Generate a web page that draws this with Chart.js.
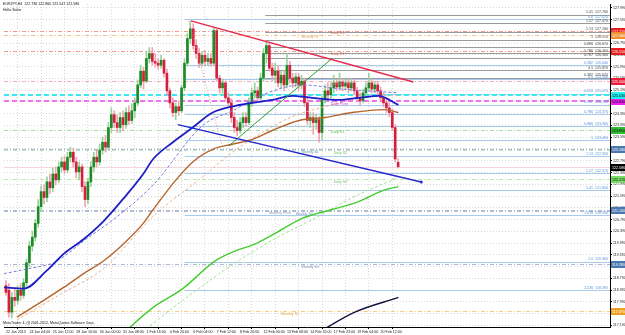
<!DOCTYPE html>
<html>
<head>
<meta charset="utf-8">
<script src="https://cdn.jsdelivr.net/npm/chart.js@4.4.1/dist/chart.umd.min.js"></script>
<style>
  html, body { margin: 0; padding: 0; background: #fff; }
  canvas { display: block; }
</style>
</head>
<body>
<canvas id="c" width="625" height="335" style="width:625px;height:335px"></canvas>
<script>
// EURJPY H4, 135 bars (bar index 0 = 22 Jan 2013)
const opens = [118.54,118.38,117.64,118.14,118.04,118.38,118.21,118.64,119.32,119.89,120.19,120.66,121.23,121.74,121.54,122.07,121.87,122.34,122.14,122.58,
  122.75,122.48,122.91,123.08,122.75,122.41,122.58,121.91,121.47,122.07,122.58,122.91,122.75,123.15,123.42,123.25,123.92,124.36,124.09,123.92,
  124.26,124.02,124.43,124.16,124.49,124.76,125.37,125.84,125.50,126.27,126.44,126.17,126.11,126.04,126.21,125.77,125.17,124.76,124.43,124.63,
  124.49,125.27,126.11,126.95,127.28,126.71,126.44,126.11,126.38,126.17,126.27,126.11,127.22,125.60,125.27,125.44,124.93,124.76,124.26,123.92,
  123.82,124.09,124.26,124.09,124.76,125.10,125.17,124.93,125.60,126.44,126.71,125.94,125.70,125.84,125.44,125.70,125.37,126.04,125.60,125.44,
  125.64,125.37,125.50,124.76,124.16,124.26,124.09,124.19,123.75,124.86,125.17,125.03,125.27,125.44,125.30,125.47,125.33,125.44,125.27,125.44,
  125.17,124.93,124.83,125.10,125.27,125.44,125.23,125.37,125.17,124.93,124.76,124.59,124.43,123.92,122.736];
const highs = [118.71,118.61,118.31,118.44,118.54,118.61,118.78,119.45,120.06,120.39,120.80,121.47,121.94,121.97,122.24,122.34,122.54,122.58,122.75,122.91,
  122.95,123.08,123.25,123.22,122.91,122.75,122.68,122.07,122.21,122.75,123.08,123.15,123.35,123.59,123.65,124.09,124.59,124.49,124.36,124.43,
  124.49,124.59,124.66,124.73,124.93,125.54,126.04,125.97,126.51,126.64,126.64,126.44,126.27,126.38,126.27,125.91,125.27,124.93,124.76,124.83,
  125.37,126.27,127.12,127.55,127.45,126.91,126.61,126.51,126.54,126.44,126.44,127.32,127.28,125.70,125.57,125.50,125.10,124.90,124.43,124.16,
  124.26,124.43,124.43,124.93,125.27,125.44,125.30,125.77,126.61,126.85,126.78,126.11,126.11,126.04,125.84,125.84,126.44,126.17,125.77,125.77,
  125.77,125.70,125.60,124.93,124.43,124.43,124.36,124.29,125.00,125.37,125.44,125.44,125.70,125.57,125.77,125.60,125.57,125.57,125.60,125.57,
  125.30,125.10,125.23,125.44,125.77,125.57,125.50,125.50,125.30,125.10,124.93,124.76,124.56,124.02,122.860];
const lows = [118.21,117.47,117.44,117.84,117.91,118.04,118.11,118.51,119.18,119.72,120.06,120.53,121.07,121.33,121.40,121.67,121.74,121.97,122.04,122.41,
  122.34,122.38,122.75,122.58,122.21,122.14,121.74,121.23,121.33,121.91,122.41,122.58,122.64,123.01,123.08,123.15,123.75,123.92,123.75,123.75,
  123.82,123.89,124.02,124.06,124.26,124.66,125.27,125.23,125.44,126.11,126.04,125.97,125.91,125.94,125.64,125.03,124.59,124.29,124.19,124.33,
  124.43,125.17,126.01,126.78,126.58,126.27,125.97,126.01,126.04,126.04,126.01,126.04,125.50,125.10,125.03,124.83,124.63,124.09,123.75,123.65,
  123.72,123.92,123.96,124.02,124.63,124.93,124.83,124.83,125.50,126.11,125.84,125.50,125.44,125.30,125.27,125.17,125.27,125.44,125.27,125.30,
  125.20,125.23,124.63,124.02,123.92,123.69,123.86,123.42,123.52,124.76,124.90,124.93,125.10,125.17,125.20,125.17,125.23,125.10,125.17,125.03,
  124.83,124.69,124.76,124.96,125.17,125.10,125.10,125.03,124.83,124.63,124.43,124.29,123.82,122.75,122.547];
const closes = [118.31,117.64,118.14,118.04,118.38,118.21,118.64,119.32,119.89,120.19,120.66,121.23,121.74,121.54,122.07,121.87,122.34,122.14,122.58,122.75,
  122.48,122.91,123.08,122.75,122.41,122.58,121.91,121.47,122.07,122.58,122.91,122.75,123.15,123.42,123.25,123.92,124.36,124.09,123.92,124.26,
  124.02,124.43,124.16,124.49,124.76,125.37,125.84,125.50,126.27,126.44,126.17,126.11,126.04,126.21,125.77,125.17,124.76,124.43,124.63,124.49,
  125.27,126.11,126.95,127.28,126.71,126.44,126.11,126.38,126.17,126.27,126.11,127.22,125.60,125.27,125.44,124.93,124.76,124.26,123.92,123.82,
  124.09,124.26,124.09,124.76,125.10,125.17,124.93,125.60,126.44,126.71,125.94,125.70,125.84,125.44,125.70,125.37,126.04,125.60,125.44,125.64,
  125.37,125.50,124.76,124.16,124.26,124.09,124.19,123.75,124.86,125.17,125.03,125.27,125.44,125.30,125.47,125.33,125.44,125.27,125.44,125.17,
  124.93,124.83,125.10,125.27,125.44,125.23,125.37,125.17,124.93,124.76,124.59,124.43,123.92,122.85,122.586];

const xTickIdx = [0,8,16,24,32,40,48,56,64,72,80,88,96,104,112,120,128];
const xTickLabels = ['22 Jan 2013','24 Jan 04:00','25 Jan 12:00','28 Jan 16:00','30 Jan 00:00','31 Jan 08:00','1 Feb 16:00','4 Feb 20:00',
  '6 Feb 04:00','7 Feb 12:00','8 Feb 20:00','12 Feb 00:00','13 Feb 08:00','14 Feb 16:00','17 Feb 23:00','19 Feb 04:00','20 Feb 12:00'];
const priceTicks = [127.990,127.590,127.190,126.790,126.390,125.990,125.590,125.190,124.790,124.390,123.990,123.590,123.190,122.790,
  122.390,121.990,121.590,121.190,120.790,120.390,119.990,119.590,119.190,118.790,118.390,117.990,117.590,117.190];

// moving averages: [bar index, price] read at points along each curve
const maBlue = [[-0.7,118.48],[6.1,118.44],[13.9,119.05],[19.7,119.62],[26.5,120.12],[33.3,120.73],[40.1,121.50],[46.9,122.34],[50.3,122.85],
  [57.0,123.42],[63.8,123.92],[70.6,124.43],[78.4,124.66],[84.2,124.76],[91.0,124.86],[97.8,125.00],[104.6,124.93],[113.8,124.86],[120.5,124.93],[127.3,125.00],[134.1,124.69]];
const maBlueSlow = [[-0.7,118.95],[7.8,119.12],[16.3,119.32],[21.4,119.65],[26.5,120.06],[36.7,120.79],[50.3,121.97],[67.2,123.99],[77.4,124.49],
  [87.6,125.03],[101.2,125.37],[114.8,125.23],[134.1,125.10]];
const maBrown = [[3.7,117.47],[12.9,118.04],[19.7,118.48],[26.5,118.95],[33.3,119.38],[40.1,119.96],[46.9,120.66],[50.3,121.13],[58.1,122.14],
  [63.8,122.75],[70.6,123.18],[77.4,123.35],[84.2,123.52],[91.0,123.82],[100.2,124.16],[109.0,124.26],[118.2,124.43],[129.4,124.53],[134.1,124.43]];
const maBrownSlow = [[3.7,117.37],[19.7,118.31],[33.3,119.12],[50.3,120.90],[67.2,122.24],[77.4,123.08],[87.6,123.75],[97.8,124.29],
  [111.4,124.69],[121.6,124.93],[134.1,125.03]];
const maGreen = [[39.4,116.86],[50.3,117.80],[60.4,118.44],[71.6,119.39],[78.4,119.72],[85.2,119.96],[92.0,120.32],[101.2,120.83],
  [111.4,121.13],[120.5,121.40],[129.4,121.80],[134.1,121.91]];
const maGreenSlow = [[45.2,116.86],[60.4,118.04],[78.4,119.32],[93.4,120.22],[103.6,120.73],[120.5,121.64],[134.1,122.21]];
const maBlack = [[105.3,116.86],[119.2,117.64],[134.1,118.14]];

// trendlines: two anchor points each [bar index, price]
const trendRed = [[63.2,127.55],[139.2,125.47]];
const trendBlue = [[58.7,124.02],[141.9,122.07]];
const trendGreen = [[76.4,123.32],[111.4,126.27]];
const trendPink = [[62.5,127.55],[73.7,123.35]];

// fibonacci sets
const fibBlueLevels = ['0.0','0.382','0.5','0.618','0.707','0.786','0.886','1','1.13','1.27','1.41','1.618','2.0','2.236'];
const fibBluePrices = [127.62,126.04,125.56,125.07,124.70,124.37,123.96,123.49,122.95,122.37,121.80,120.94,119.36,118.39];
const fibGrayLevels = ['1.41','1.27','1.13','1','0.886','0.786','0.707','0.5','0.382'];
const fibGrayPrices = [127.76,127.47,127.18,126.91,126.67,126.46,126.30,125.87,125.62];

// pivot lines
const pivotNames = ['Daily R2','Weekly R1','Daily R1','Weekly Pivot','Daily Pivot','Daily S1','Weekly S1','Daily S2','Daily S3','Monthly Pivot','Weekly S2','Weekly S3','Monthly S1'];
const pivotPrices = [127.22,127.08,126.51,125.50,124.83,123.85,123.18,123.15,122.17,121.10,121.07,119.28,117.67];
const cyanLevel = 125.03;
const lastQuote = [122.736,122.860,122.547,122.586];

// ---- styles ----
const FONT = '"Liberation Sans", Arial, sans-serif';
const GREEN = '#1d8a26', RED = '#d41f3d';
const pivotStyle = {
  'Daily R2':      { color: '#f29a8c', text: '#e2705c', box: '#e81e1e', at: 111 },
  'Weekly R1':     { color: '#f6c48a', text: '#e0a060', box: '#f09030', at: 101 },
  'Daily R1':      { color: '#f29a8c', text: '#e2705c', box: '#e81e1e', at: 111 },
  'Weekly Pivot':  { color: '#f6aabb', text: '#e07090', box: '#e81e3c', at: 111 },
  'Daily Pivot':   { color: '#f070f0', text: '#d040d0', box: '#ee22ee', at: 111, width: 2, dash: [5, 3] },
  'Daily S1':      { color: '#a6dca6', text: '#5cb85c', box: '#33bb33', at: 111 },
  'Weekly S1':     { color: '#aab8d2', text: '#6a88c0', box: '#4a78b0', at: 101 },
  'Daily S2':      { color: '#c4e8c4', text: '#74c074', box: null, at: 112 },
  'Daily S3':      { color: '#bfe8b0', text: '#74c074', box: '#77dd66', at: 112 },
  'Monthly Pivot': { color: '#b0bcd4', text: '#8a9ac0', box: '#4a78b0', at: 90 },
  'Weekly S2':     { color: '#b0bcd4', text: '#7890c0', box: null, at: 99 },
  'Weekly S3':     { color: '#aab8d2', text: '#7890c0', box: '#4a78b0', at: 101 },
  'Monthly S1':    { color: '#f6cc80', text: '#e0a840', box: '#f0a020', at: 94 }
};
const X_MIN = -0.68, X_MAX = 206.4, Y_MIN = 117.133, Y_MAX = 128.124;
const FIB_BLUE_FROM = 61.1, FIB_GRAY_FROM = 88.6;

function hline(ctx, x1, x2, py, color, width, dash) {
  ctx.save();
  ctx.strokeStyle = color; ctx.lineWidth = width || 1; ctx.setLineDash(dash || []);
  const yy = Math.round(py) + ((width || 1) % 2 ? 0.5 : 0);
  ctx.beginPath(); ctx.moveTo(x1, yy); ctx.lineTo(x2, yy); ctx.stroke();
  ctx.restore();
}

const overlay = {
  id: 'overlay',
  beforeDatasetsDraw(chart) {
    const { ctx, chartArea: a, scales: { x, y } } = chart;
    ctx.save();
    ctx.beginPath(); ctx.rect(a.left, a.top, a.right - a.left, a.bottom - a.top); ctx.clip();
    fibBluePrices.forEach(p => hline(ctx, x.getPixelForValue(FIB_BLUE_FROM), a.right, y.getPixelForValue(p), '#a6cbef', 1));
    fibGrayPrices.forEach(p => hline(ctx, x.getPixelForValue(FIB_GRAY_FROM), a.right, y.getPixelForValue(p), '#9a9a9a', 1));
    hline(ctx, a.left, a.right, y.getPixelForValue(cyanLevel), '#38e8f2', 2, [5, 3]);
    pivotNames.forEach((n, k) => {
      const s = pivotStyle[n];
      hline(ctx, a.left, a.right, y.getPixelForValue(pivotPrices[k]), s.color, s.width || 1, s.dash || [4, 2, 1, 2]);
    });
    hline(ctx, a.left, a.right, y.getPixelForValue(lastQuote[3]), 'rgba(235,180,190,0.55)', 1);
    ctx.restore();
  },
  afterDraw(chart) {
    const { ctx, chartArea: a, scales: { x, y } } = chart;
    ctx.save();
    ctx.font = '3.6px ' + FONT;
    ctx.textBaseline = 'bottom';
    ctx.textAlign = 'right';
    fibBluePrices.forEach((p, k) => {
      ctx.fillStyle = '#5b93d8';
      ctx.fillText(fibBlueLevels[k] + '  ' + p.toFixed(3), a.right - 2, y.getPixelForValue(p) - 0.5);
    });
    fibGrayPrices.forEach((p, k) => {
      ctx.fillStyle = '#444';
      ctx.fillText(fibGrayLevels[k] + '  ' + p.toFixed(3), a.right - 2, y.getPixelForValue(p) - 0.5);
    });
    ctx.textAlign = 'left';
    ctx.textBaseline = 'top';
    pivotNames.forEach((n, k) => {
      const s = pivotStyle[n];
      ctx.fillStyle = s.text;
      ctx.fillText(n, x.getPixelForValue(s.at), y.getPixelForValue(pivotPrices[k]) + 1);
    });
    // price boxes on the right axis
    const boxes = pivotNames.map((n, k) => [pivotPrices[k], pivotStyle[n].box]).filter(b => b[1]);
    boxes.push([cyanLevel, '#22f0f0'], [lastQuote[3], '#000']);
    ctx.textBaseline = 'middle';
    boxes.forEach(([p, c]) => {
      const py = Math.round(y.getPixelForValue(p));
      ctx.fillStyle = c;
      ctx.fillRect(a.right + 1, py - 3, 14, 7);
      ctx.fillStyle = ['#22f0f0', '#ee22ee', '#77dd66', '#33bb33'].includes(c) ? '#000' : '#fff';
      ctx.fillText(p.toFixed(3), a.right + 2, py + 0.5);
    });
    // header and footer texts
    ctx.fillStyle = '#111';
    ctx.textBaseline = 'top';
    ctx.fillText('EURJPY,H4  ' + lastQuote.map(v => v.toFixed(3)).join(' '), 3, 2);
    ctx.fillText('Hello Sailor', 3, 8);
    ctx.fillText('MetaTrader 4, (I) 2001-2012, MetaQuotes Software Corp.', 3, a.bottom - 6);
    ctx.restore();
  }
};

const idx = opens.map((_, i) => i);
const up = idx.map(i => closes[i] >= opens[i]);

function lineSet(points, color, width, dash, order) {
  return {
    type: 'line', data: points.map(([i, v]) => ({ x: i, y: v })),
    borderColor: color, borderWidth: width, borderDash: dash || [],
    pointRadius: 0, tension: 0.4, cubicInterpolationMode: 'monotone', fill: false, order: order
  };
}

new Chart(document.getElementById('c'), {
  type: 'bar',
  data: {
    datasets: [
      {
        data: idx.map(i => ({ x: i, y: [lows[i], highs[i]] })),
        backgroundColor: up.map(u => u ? '#98d39c' : '#f2a3b2'),
        barThickness: 1, grouped: false, minBarLength: 1, order: 6
      },
      {
        data: idx.map(i => ({ x: i, y: [opens[i], closes[i]] })),
        backgroundColor: up.map(u => u ? GREEN : RED),
        barThickness: 2, grouped: false, minBarLength: 1, order: 5
      },
      lineSet(maBlueSlow, '#7a7adc', 1, [3, 2], 4),
      lineSet(maBrownSlow, '#eab396', 1, [3, 2], 4),
      lineSet(maGreenSlow, '#a6e298', 1, [3, 2], 4),
      lineSet(maBlue, '#1d1dc8', 1.8, [], 3),
      lineSet(maBrown, '#b5642c', 1.4, [], 3),
      lineSet(maGreen, '#44cc2e', 1.4, [], 3),
      lineSet(maBlack, '#14143c', 1.5, [], 3),
      { type: 'line', data: trendRed.map(([i, v]) => ({ x: i, y: v })), borderColor: '#e8284a', borderWidth: 1.5, pointRadius: 0, order: 1 },
      { type: 'line', data: trendBlue.map(([i, v]) => ({ x: i, y: v })), borderColor: '#2626cc', borderWidth: 1.5,
        pointRadius: [0, 1.5], pointBackgroundColor: '#2626cc', pointBorderWidth: 0, order: 1 },
      { type: 'line', data: trendGreen.map(([i, v]) => ({ x: i, y: v })), borderColor: '#2c9c2c', borderWidth: 1, pointRadius: 0, order: 1 },
      { type: 'line', data: trendPink.map(([i, v]) => ({ x: i, y: v })), borderColor: '#f08898', borderWidth: 1, borderDash: [1, 2], pointRadius: 0, order: 1 }
    ]
  },
  options: {
    responsive: false, animation: false, devicePixelRatio: 1, events: [],
    layout: { padding: 0 },
    plugins: { legend: { display: false }, tooltip: { enabled: false } },
    scales: {
      x: {
        type: 'linear', min: X_MIN, max: X_MAX, offset: false,
        afterBuildTicks: s => { s.ticks = xTickIdx.map(v => ({ value: v })); },
        afterFit: s => { s.height = 8; },
        ticks: { autoSkip: false, maxRotation: 0, align: 'start', padding: 1, color: '#222',
          font: { size: 3.6, family: FONT }, callback: (v, i) => xTickLabels[i] },
        grid: { color: 'rgba(150,160,170,0.4)', tickLength: 2, tickColor: '#000' },
        border: { display: true, color: '#000', dash: [1, 2] }
      },
      y: {
        type: 'linear', position: 'right', min: Y_MIN, max: Y_MAX,
        afterBuildTicks: s => { s.ticks = priceTicks.map(v => ({ value: v })); },
        afterFit: s => { s.width = 15; },
        ticks: { autoSkip: false, padding: 1, color: '#222', font: { size: 3.6, family: FONT }, callback: v => v.toFixed(3) },
        grid: { color: 'rgba(150,160,170,0.4)', tickLength: 2, tickColor: '#000' },
        border: { display: true, color: '#000', dash: [1, 2] }
      }
    }
  },
  plugins: [overlay]
});
</script>
</body>
</html>
